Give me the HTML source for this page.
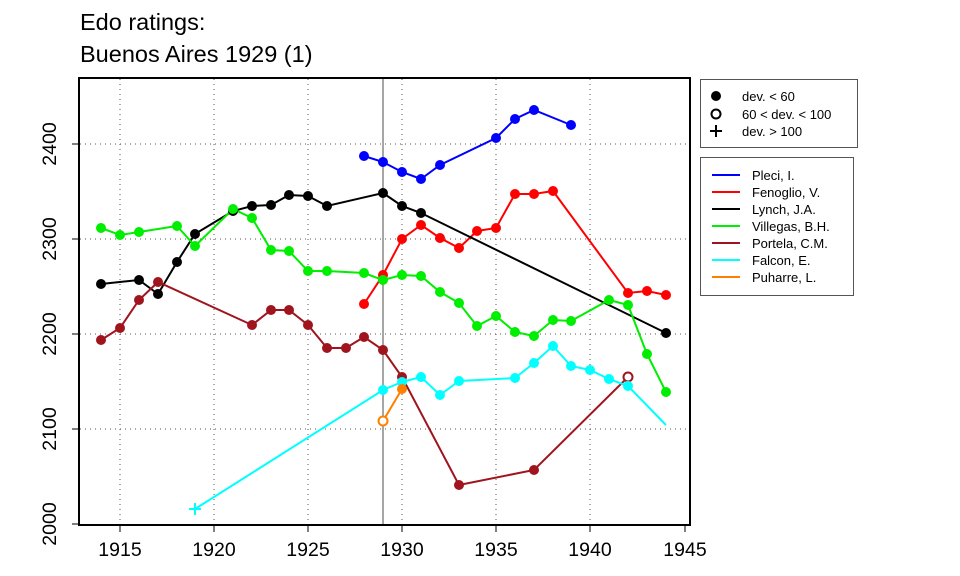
<!DOCTYPE html>
<html><head><meta charset="utf-8"><style>body{margin:0;background:#fff}svg{display:block;font-family:"Liberation Sans",Arial,sans-serif}</style></head><body>
<svg width="960" height="576" viewBox="0 0 960 576">
<text x="80" y="30" font-size="23.5">Edo ratings:</text>
<text x="80" y="62" font-size="23.5">Buenos Aires 1929 (1)</text>
<g stroke="#555" stroke-dasharray="1,4" stroke-width="1">
<line x1="120" y1="79" x2="120" y2="524"/><line x1="214" y1="79" x2="214" y2="524"/><line x1="308" y1="79" x2="308" y2="524"/><line x1="402" y1="79" x2="402" y2="524"/><line x1="496" y1="79" x2="496" y2="524"/><line x1="590" y1="79" x2="590" y2="524"/>
<line x1="80" y1="429" x2="689" y2="429"/><line x1="80" y1="334" x2="689" y2="334"/><line x1="80" y1="239" x2="689" y2="239"/><line x1="80" y1="144" x2="689" y2="144"/>
</g>
<line x1="383" y1="79" x2="383" y2="524" stroke="#888" stroke-width="1.5"/>
<g fill="none" stroke-width="2">
<polyline stroke="#0000ff" points="364,156 383,162 402,172 421,179 440,165 496,138 515,119 534,110 571,125"/>
<polyline stroke="#ff0000" points="364,304 383,275 402,239 421,225 440,238 459,248 477,231 496,228 515,194 534,194 553,191 628,293 647,291 666,295"/>
<polyline stroke="#000" points="101,284 139,280 158,294 177,262 195,234 233,211 252,206 271,205 289,195 308,196 327,206 383,193 402,206 421,213 666,333"/>
<polyline stroke="#00ee00" points="101,228 120,235 139,232 177,226 195,246 233,209 252,218 271,250 289,251 308,271 327,271 364,273 383,280 402,275 421,276 440,292 459,303 477,326 496,316 515,332 534,336 553,320 571,321 609,300 628,305 647,354 666,392"/>
<polyline stroke="#a0141e" points="101,340 120,328 139,300 158,282 252,325 271,310 289,310 308,325 327,348 346,348 364,337 383,350 402,377 459,485 534,470 628,377"/>
<polyline stroke="#00ffff" points="195,509 383,390 402,382 421,377 440,395 459,381 515,378 534,363 553,346 571,366 590,370 609,379 628,386 666,425"/>
<polyline stroke="#ff7f00" points="383,421 402,389"/>
</g>
<g fill="#0000ff"><circle cx="364" cy="156" r="5"/><circle cx="383" cy="162" r="5"/><circle cx="402" cy="172" r="5"/><circle cx="421" cy="179" r="5"/><circle cx="440" cy="165" r="5"/><circle cx="496" cy="138" r="5"/><circle cx="515" cy="119" r="5"/><circle cx="534" cy="110" r="5"/><circle cx="571" cy="125" r="5"/></g>
<g fill="#ff0000"><circle cx="364" cy="304" r="5"/><circle cx="383" cy="275" r="5"/><circle cx="402" cy="239" r="5"/><circle cx="421" cy="225" r="5"/><circle cx="440" cy="238" r="5"/><circle cx="459" cy="248" r="5"/><circle cx="477" cy="231" r="5"/><circle cx="496" cy="228" r="5"/><circle cx="515" cy="194" r="5"/><circle cx="534" cy="194" r="5"/><circle cx="553" cy="191" r="5"/><circle cx="628" cy="293" r="5"/><circle cx="647" cy="291" r="5"/><circle cx="666" cy="295" r="5"/></g>
<g fill="#000"><circle cx="101" cy="284" r="5"/><circle cx="139" cy="280" r="5"/><circle cx="158" cy="294" r="5"/><circle cx="177" cy="262" r="5"/><circle cx="195" cy="234" r="5"/><circle cx="233" cy="211" r="5"/><circle cx="252" cy="206" r="5"/><circle cx="271" cy="205" r="5"/><circle cx="289" cy="195" r="5"/><circle cx="308" cy="196" r="5"/><circle cx="327" cy="206" r="5"/><circle cx="383" cy="193" r="5"/><circle cx="402" cy="206" r="5"/><circle cx="421" cy="213" r="5"/><circle cx="666" cy="333" r="5"/></g>
<g fill="#00ee00"><circle cx="101" cy="228" r="5"/><circle cx="120" cy="235" r="5"/><circle cx="139" cy="232" r="5"/><circle cx="177" cy="226" r="5"/><circle cx="195" cy="246" r="5"/><circle cx="233" cy="209" r="5"/><circle cx="252" cy="218" r="5"/><circle cx="271" cy="250" r="5"/><circle cx="289" cy="251" r="5"/><circle cx="308" cy="271" r="5"/><circle cx="327" cy="271" r="5"/><circle cx="364" cy="273" r="5"/><circle cx="383" cy="280" r="5"/><circle cx="402" cy="275" r="5"/><circle cx="421" cy="276" r="5"/><circle cx="440" cy="292" r="5"/><circle cx="459" cy="303" r="5"/><circle cx="477" cy="326" r="5"/><circle cx="496" cy="316" r="5"/><circle cx="515" cy="332" r="5"/><circle cx="534" cy="336" r="5"/><circle cx="553" cy="320" r="5"/><circle cx="571" cy="321" r="5"/><circle cx="609" cy="300" r="5"/><circle cx="628" cy="305" r="5"/><circle cx="647" cy="354" r="5"/><circle cx="666" cy="392" r="5"/></g>
<g fill="#a0141e"><circle cx="101" cy="340" r="5"/><circle cx="120" cy="328" r="5"/><circle cx="139" cy="300" r="5"/><circle cx="158" cy="282" r="5"/><circle cx="252" cy="325" r="5"/><circle cx="271" cy="310" r="5"/><circle cx="289" cy="310" r="5"/><circle cx="308" cy="325" r="5"/><circle cx="327" cy="348" r="5"/><circle cx="346" cy="348" r="5"/><circle cx="364" cy="337" r="5"/><circle cx="383" cy="350" r="5"/><circle cx="402" cy="377" r="5"/><circle cx="459" cy="485" r="5"/><circle cx="534" cy="470" r="5"/></g>
<circle cx="628" cy="377" r="4.5" fill="#fff" stroke="#a0141e" stroke-width="2"/>
<g fill="#00ffff"><circle cx="383" cy="390" r="5"/><circle cx="402" cy="382" r="5"/><circle cx="421" cy="377" r="5"/><circle cx="440" cy="395" r="5"/><circle cx="459" cy="381" r="5"/><circle cx="515" cy="378" r="5"/><circle cx="534" cy="363" r="5"/><circle cx="553" cy="346" r="5"/><circle cx="571" cy="366" r="5"/><circle cx="590" cy="370" r="5"/><circle cx="609" cy="379" r="5"/><circle cx="628" cy="386" r="5"/></g>
<path d="M189,509h12M195,503v12" stroke="#00ffff" stroke-width="2"/>
<circle cx="383" cy="421" r="4.5" fill="#fff" stroke="#ff7f00" stroke-width="2"/>
<circle cx="402" cy="389" r="5" fill="#ff7f00"/>
<rect x="79" y="78" width="611" height="447" fill="none" stroke="#000" stroke-width="2"/>
<g stroke="#000" stroke-width="1">
<line x1="120" y1="525" x2="120" y2="532"/><line x1="214" y1="525" x2="214" y2="532"/><line x1="308" y1="525" x2="308" y2="532"/><line x1="402" y1="525" x2="402" y2="532"/><line x1="496" y1="525" x2="496" y2="532"/><line x1="590" y1="525" x2="590" y2="532"/><line x1="685" y1="525" x2="685" y2="532"/>
<line x1="72" y1="524" x2="79" y2="524"/><line x1="72" y1="429" x2="79" y2="429"/><line x1="72" y1="334" x2="79" y2="334"/><line x1="72" y1="239" x2="79" y2="239"/><line x1="72" y1="144" x2="79" y2="144"/>
</g>
<g font-size="19.5" text-anchor="middle">
<text x="120" y="556">1915</text><text x="214" y="556">1920</text><text x="308" y="556">1925</text><text x="402" y="556">1930</text><text x="496" y="556">1935</text><text x="590" y="556">1940</text><text x="685" y="556">1945</text>
<text transform="translate(56,524) rotate(-90)">2000</text><text transform="translate(56,429) rotate(-90)">2100</text><text transform="translate(56,334) rotate(-90)">2200</text><text transform="translate(56,239) rotate(-90)">2300</text><text transform="translate(56,144) rotate(-90)">2400</text>
</g>
<rect x="700.5" y="79.5" width="157" height="68" fill="#fff" stroke="#555"/>
<circle cx="716" cy="96" r="5" fill="#000"/>
<circle cx="716" cy="114" r="4.5" fill="none" stroke="#000" stroke-width="2"/>
<path d="M710,131h12M716,125v12" stroke="#000" stroke-width="2"/>
<g font-size="13"><text x="742" y="101">dev. &lt; 60</text><text x="742" y="119">60 &lt; dev. &lt; 100</text><text x="742" y="136">dev. &gt; 100</text></g>
<rect x="700.5" y="157.5" width="153" height="138" fill="#fff" stroke="#555"/>
<g stroke-width="2">
<line x1="712" y1="175" x2="740" y2="175" stroke="#0000ff"/><line x1="712" y1="192" x2="740" y2="192" stroke="#ff0000"/><line x1="712" y1="209" x2="740" y2="209" stroke="#000"/><line x1="712" y1="226" x2="740" y2="226" stroke="#00ee00"/><line x1="712" y1="243" x2="740" y2="243" stroke="#a0141e"/><line x1="712" y1="260" x2="740" y2="260" stroke="#00ffff"/><line x1="712" y1="277" x2="740" y2="277" stroke="#ff7f00"/>
</g>
<g font-size="13"><text x="752" y="180">Pleci, I.</text><text x="752" y="197">Fenoglio, V.</text><text x="752" y="214">Lynch, J.A.</text><text x="752" y="231">Villegas, B.H.</text><text x="752" y="248">Portela, C.M.</text><text x="752" y="265">Falcon, E.</text><text x="752" y="282">Puharre, L.</text></g>
</svg>
</body></html>
